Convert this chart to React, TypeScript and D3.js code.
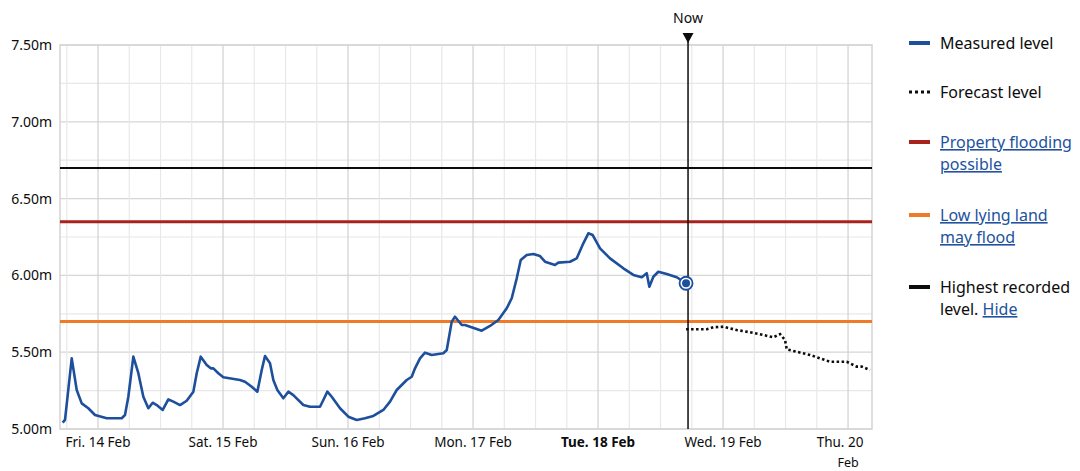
import * as d3 from 'd3';
import React, { useEffect, useRef } from 'react';

const width = 1080
const height = 471

// times are hours after Fri 14 Feb 2025 00:00
const measuredHours = [-6.78, -6.34, -5.05, -4.09, -3.13, -1.86, -0.58, 1.67, 4.55, 5.18, 5.82, 6.78, 7.74, 8.7, 9.66, 10.5, 11.27, 12.42, 13.5, 14.46, 15.74, 17.03, 18.3, 18.95, 19.72, 20.87, 21.64, 22.14, 23.1, 24.06, 27.26, 28.22, 29.51, 30.59, 31.43, 32.06, 33.02, 33.66, 34.43, 35.58, 36.54, 37.5, 39.42, 40.7, 42.62, 43.26, 44.03, 44.87, 46.46, 48.06, 49.67, 51.26, 52.86, 54.78, 56.06, 57.35, 59.27, 60.23, 60.86, 61.82, 62.78, 64.07, 66.3, 66.95, 67.91, 68.54, 69.83, 70.46, 71.42, 73.67, 75.26, 76.86, 78.47, 79.43, 80.39, 81.16, 82.31, 83.58, 84.86, 85.82, 87.74, 88.38, 90.62, 91.91, 93.18, 94.14, 94.98, 96.38, 98.3, 100.86, 102.78, 104.39, 105.35, 105.85, 106.62, 107.58, 109.19, 111.11, 112.9]
const measuredLevels = [5.041, 5.059, 5.46, 5.254, 5.167, 5.135, 5.091, 5.07, 5.07, 5.091, 5.21, 5.471, 5.363, 5.21, 5.135, 5.171, 5.156, 5.124, 5.193, 5.178, 5.156, 5.184, 5.243, 5.363, 5.471, 5.417, 5.395, 5.395, 5.363, 5.337, 5.319, 5.308, 5.275, 5.243, 5.384, 5.475, 5.428, 5.319, 5.254, 5.2, 5.243, 5.221, 5.156, 5.145, 5.145, 5.189, 5.243, 5.21, 5.135, 5.08, 5.059, 5.07, 5.085, 5.124, 5.178, 5.254, 5.319, 5.34, 5.395, 5.46, 5.497, 5.482, 5.493, 5.514, 5.699, 5.731, 5.677, 5.677, 5.666, 5.64, 5.671, 5.71, 5.786, 5.851, 5.981, 6.1, 6.133, 6.139, 6.126, 6.089, 6.068, 6.083, 6.089, 6.111, 6.209, 6.274, 6.263, 6.176, 6.111, 6.046, 6.003, 5.988, 6.014, 5.926, 5.991, 6.024, 6.009, 5.988, 5.949]

const forecastHours = [112.9, 116.87, 118.14, 120.06, 122.63, 125.18, 127.74, 129.66, 130.94, 131.9, 132.23, 134.13, 136.7, 138.62, 140.54, 142.46, 143.75, 145.67, 146.63, 148.22]
const forecastLevels = [5.649, 5.649, 5.662, 5.666, 5.644, 5.63, 5.612, 5.597, 5.618, 5.579, 5.519, 5.503, 5.482, 5.46, 5.438, 5.438, 5.438, 5.406, 5.406, 5.384]

const thresholdNames = ['Highest recorded level', 'Property flooding possible', 'Low lying land may flood']
const thresholdLevels = [6.70, 6.35, 5.70]

const yTicks = [5.0, 5.5, 6.0, 6.5, 7.0, 7.5]
const dayLabels = ['Fri. 14 Feb', 'Sat. 15 Feb', 'Sun. 16 Feb', 'Mon. 17 Feb', 'Tue. 18 Feb', 'Wed. 19 Feb', 'Thu. 20 Feb']
const nowHour = 113.28
const domainHours = [-7.3, 148.6]

const base = new Date(2025, 1, 14)
const toDate = (h: number) => new Date(base.getTime() + h * 3600e3)

const blue = '#1d4f9c'
const link = '#22529e'
const ink = '#0b0c0c'
const thresholdColors = ['#0b0c0c', '#a8231d', '#f07a26']
const font = '"Noto Sans", "Liberation Sans", Arial, sans-serif'

export default function App() {
    const ref = useRef<SVGSVGElement>(null)

    useEffect(() => {
        drawChart()
    }, [])

    function drawChart() {
        const margin = { top: 45, right: 208, bottom: 42, left: 60 }
        const svg = d3.select(ref.current)
        svg.selectAll('*').remove()

        const x = d3.scaleTime()
            .domain(domainHours.map(toDate))
            .range([margin.left, width - margin.right])
        const y = d3.scaleLinear()
            .domain([5, 7.5])
            .range([height - margin.bottom, margin.top])

        const [x0, x1] = x.range()
        const [y0, y1] = y.range()

        // grid
        const grid = svg.append('g')
        grid.selectAll('line.h')
            .data(d3.range(5, 7.51, 0.25))
            .enter().append('line')
            .attr('x1', x0).attr('x2', x1)
            .attr('y1', d => y(d)).attr('y2', d => y(d))
            .attr('stroke', (d, i) => i % 2 == 0 ? '#d6d6d6' : '#e8e8e8')
            .attr('stroke-width', 1.2)

        grid.selectAll('line.v')
            .data(d3.timeHour.every(6)!.range(x.domain()[0], x.domain()[1]))
            .enter().append('line')
            .attr('x1', d => x(d)).attr('x2', d => x(d))
            .attr('y1', y1).attr('y2', y0)
            .attr('stroke', d => d.getHours() == 0 ? '#d0d0d0' : '#e8e8e8')
            .attr('stroke-width', 1.2)

        svg.append('rect')
            .attr('x', x0).attr('y', y1)
            .attr('width', x1 - x0).attr('height', y0 - y1)
            .attr('fill', 'none')
            .attr('stroke', '#d3d3d3')
            .attr('stroke-width', 1.5)

        // y axis labels
        svg.append('g').selectAll('text')
            .data(yTicks)
            .enter().append('text')
            .attr('x', 52)
            .attr('y', d => y(d) + 5)
            .attr('text-anchor', 'end')
            .style('font', `14px ${font}`)
            .attr('fill', ink)
            .text(d => d.toFixed(2) + 'm')

        // x axis labels
        const days = d3.timeDay.range(toDate(0), toDate(145))
        svg.append('g').selectAll('text')
            .data(days)
            .enter().append('text')
            .attr('x', (d, i) => x(d) + (i == days.length - 1 ? -8 : 0))
            .attr('y', y0 + 18)
            .attr('text-anchor', 'middle')
            .style('font', `13.5px ${font}`)
            .style('font-weight', (d, i) => i == 4 ? 700 : 400)
            .attr('fill', ink)
            .each(function (d, i) {
                const parts = dayLabels[i].split(' ')
                const t = d3.select(this)
                if (i == days.length - 1) {
                    t.append('tspan').text(parts[0] + ' ' + parts[1])
                    t.append('tspan').attr('x', x(d)).attr('dy', 20).style('font-size', '12.5px').text(parts[2])
                } else {
                    t.text(dayLabels[i])
                }
            })

        // thresholds
        svg.append('g').selectAll('line')
            .data(thresholdLevels)
            .enter().append('line')
            .attr('x1', x0).attr('x2', x1)
            .attr('y1', d => y(d)).attr('y2', d => y(d))
            .attr('stroke', (d, i) => thresholdColors[i])
            .attr('stroke-width', (d, i) => i == 0 ? 2 : 3)

        // measured
        const measured = measuredHours.map((h, i) => [toDate(h), measuredLevels[i]] as [Date, number])
        const forecast = forecastHours.map((h, i) => [toDate(h), forecastLevels[i]] as [Date, number])
        const line = d3.line<[Date, number]>()
            .x(d => x(d[0]))
            .y(d => y(d[1]))

        svg.append('path')
            .datum(forecast)
            .attr('d', line)
            .attr('fill', 'none')
            .attr('stroke', ink)
            .attr('stroke-width', 2.6)
            .attr('stroke-dasharray', '2.5,2.5')

        svg.append('path')
            .datum(measured)
            .attr('d', line)
            .attr('fill', 'none')
            .attr('stroke', blue)
            .attr('stroke-width', 2.6)
            .attr('stroke-linejoin', 'round')

        // now line
        const nx = x(toDate(nowHour))
        svg.append('line')
            .attr('x1', nx).attr('x2', nx)
            .attr('y1', 36).attr('y2', y0)
            .attr('stroke', ink)
            .attr('stroke-width', 1.5)
        svg.append('path')
            .attr('d', `M${nx - 5.5},33 L${nx + 5.5},33 L${nx},43 Z`)
            .attr('fill', ink)
        svg.append('text')
            .attr('x', nx).attr('y', 23)
            .attr('text-anchor', 'middle')
            .style('font', `14px ${font}`)
            .attr('fill', ink)
            .text('Now')

        const last = measured[measured.length - 1]
        svg.append('circle')
            .attr('cx', x(last[0])).attr('cy', y(last[1]))
            .attr('r', 6.5)
            .attr('fill', 'white')
            .attr('stroke', blue)
            .attr('stroke-width', 1.8)
        svg.append('circle')
            .attr('cx', x(last[0])).attr('cy', y(last[1]))
            .attr('r', 4)
            .attr('fill', blue)

        // legend
        const lg = svg.append('g').style('font', `16px ${font}`)
        const sx = 909, tx = 940
        const row = (yy: number, color: string, dashed = false) => {
            lg.append('line')
                .attr('x1', sx).attr('x2', sx + 21)
                .attr('y1', yy).attr('y2', yy)
                .attr('stroke', color)
                .attr('stroke-width', dashed ? 3 : 4)
                .attr('stroke-dasharray', dashed ? '3,3' : null)
        }
        row(43, blue)
        lg.append('text').attr('x', tx).attr('y', 49).attr('fill', ink).text('Measured level')
        row(92, ink, true)
        lg.append('text').attr('x', tx).attr('y', 98).attr('fill', ink).text('Forecast level')

        row(142, thresholdColors[1])
        const pf = lg.append('text').attr('x', tx).attr('y', 148).attr('fill', link).style('text-decoration', 'underline')
        pf.append('tspan').text('Property flooding')
        pf.append('tspan').attr('x', tx).attr('dy', 22).text('possible')

        row(215, thresholdColors[2])
        const ll = lg.append('text').attr('x', tx).attr('y', 221).attr('fill', link).style('text-decoration', 'underline')
        ll.append('tspan').text('Low lying land')
        ll.append('tspan').attr('x', tx).attr('dy', 22).text('may flood')

        row(287, thresholdColors[0])
        const hr = lg.append('text').attr('x', tx).attr('y', 293).attr('fill', ink)
        hr.append('tspan').text('Highest recorded')
        hr.append('tspan').attr('x', tx).attr('dy', 22).text('level. ')
        hr.append('tspan').attr('fill', link).style('text-decoration', 'underline').text('Hide')
    }

    return <div style={{ position: 'absolute', left: 0, top: 0 }}>
        <svg ref={ref} width={width} height={height} style={{ display: 'block', background: 'white' }} />
    </div>
}
